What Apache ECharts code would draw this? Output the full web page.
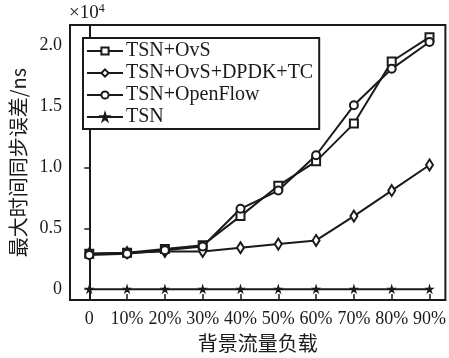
<!DOCTYPE html>
<html><head><meta charset="utf-8">
<script src="https://cdn.jsdelivr.net/npm/echarts@6/dist/echarts.min.js"></script>
<style>html,body{margin:0;padding:0;background:#fff}#c{width:449px;height:358px}</style>
</head><body><div id="c"></div>
<script>
var categories = ['0','10%','20%','30%','40%','50%','60%','70%','80%','90%'];
var yTicks = [0, 0.5, 1.0, 1.5, 2.0];
var yTickLabels = ['0','0.5','1.0','1.5','2.0'];
// values in units of 10^4 ns
var ovs      = [0.29, 0.30, 0.33, 0.36, 0.60, 0.85, 1.05, 1.36, 1.87, 2.07];
var dpdk     = [0.29, 0.30, 0.31, 0.31, 0.34, 0.37, 0.40, 0.60, 0.81, 1.02];
var openflow = [0.28, 0.29, 0.32, 0.35, 0.66, 0.81, 1.10, 1.51, 1.81, 2.03];
var tsn      = [0, 0, 0, 0, 0, 0, 0, 0, 0, 0];
var names = ['TSN+OvS','TSN+OvS+DPDK+TC','TSN+OpenFlow','TSN'];

var C = '#1a1a1a';
var serif = 'Liberation Serif';
var cjk = 'Noto Sans CJK SC';
function pts(a){ return a.map(function(v,i){return [i,v];}); }
var star = 'path://M50,0 L61,35 L98,35 L68,57 L79,91 L50,70 L21,91 L32,57 L2,35 L39,35 Z';

function mk(name, data, sym, size){
  return {name:name, type:'line', data:pts(data), symbol:sym, symbolSize:size,
    lineStyle:{color:C,width:2}, itemStyle:{color:C,borderColor:C,borderWidth:1.5},
    emphasis:{disabled:true}, animation:false, z:3};
}
var chart = echarts.init(document.getElementById('c'), null, {renderer:'canvas'});
chart.setOption({
  backgroundColor:'#fff',
  animation:false,
  grid:{left:70,right:3,top:25,bottom:52,show:true,borderColor:C,borderWidth:2,backgroundColor:'transparent'},
  xAxis:{type:'value',min:-0.51,max:9.42,
    axisLine:{show:true,onZero:false,lineStyle:{color:C,width:2}},
    axisTick:{show:true,inside:true,length:6,customValues:categories.map(function(c,i){return i;}),lineStyle:{color:C,width:1.5}},
    axisLabel:{customValues:categories.map(function(c,i){return i;}),formatter:function(v){return categories[Math.round(v)];},
      color:C,fontFamily:serif,fontSize:18,margin:10},
    splitLine:{show:false},
    name:'背景流量负载',nameLocation:'middle',nameGap:30,
    nameTextStyle:{color:C,fontFamily:cjk,fontSize:20}
  },
  yAxis:{type:'value',min:-0.09,max:2.17,
    axisLine:{show:true,lineStyle:{color:C,width:2}},
    axisTick:{show:true,inside:false,length:5,customValues:yTicks,lineStyle:{color:C,width:1.5}},
    axisLabel:{customValues:yTicks,formatter:function(v){var i=yTicks.indexOf(v);return i>=0?yTickLabels[i]:'';},
      color:C,fontFamily:serif,fontSize:18,margin:8},
    splitLine:{show:false},
    name:'最大时间同步误差/ns',nameLocation:'middle',nameGap:42,nameRotate:90,
    nameTextStyle:{color:C,fontFamily:cjk,fontSize:20}
  },
  legend:{orient:'vertical',left:83,top:38,width:239,itemWidth:36,itemHeight:9,itemGap:2,
    padding:[3,6,2,3],borderColor:C,borderWidth:2,backgroundColor:'#fff',
    textStyle:{color:C,fontFamily:serif,fontSize:20,padding:[0,0,0,-2]},
    data:names,selectedMode:false},
  graphic:[{type:'text',left:69,top:3,style:{text:'{a|×10}{s|4}',fill:C,
    rich:{a:{fontSize:19,fontFamily:serif,fill:C,verticalAlign:'bottom',lineHeight:20},
          s:{fontSize:12,verticalAlign:'top',fontFamily:serif,fill:C,lineHeight:20}}}}],
  series:[
    mk(names[0], ovs, 'emptyRect', 8),
    mk(names[1], dpdk, 'emptyDiamond', [7,11]),
    mk(names[2], openflow, 'emptyCircle', 8),
    mk(names[3], tsn, star, 6)
  ]
});
</script></body></html>
